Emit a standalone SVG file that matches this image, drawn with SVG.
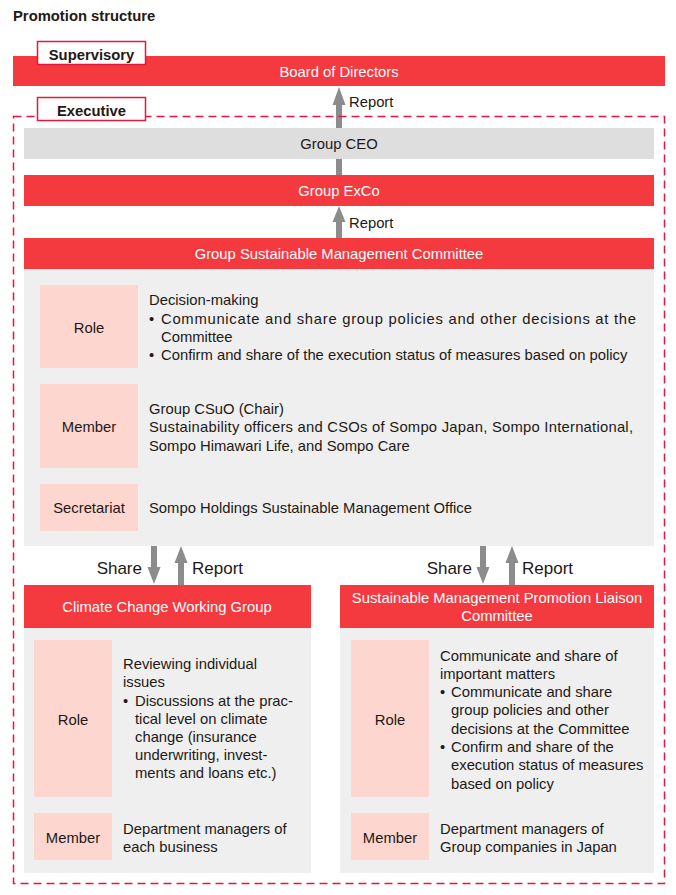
<svg xmlns="http://www.w3.org/2000/svg" width="676" height="895" viewBox="0 0 676 895">
<style>
text{font-family:"Liberation Sans",Arial,sans-serif;fill:#231815;font-size:14.8px}
.w{fill:#fff;text-anchor:middle}
.c{text-anchor:middle}
.b{font-weight:bold}
.red{fill:#F4393F}
.gray{fill:#EFEFEF}
.pink{fill:#FDD6D0}
.arr{fill:#8C8C8C}
.sr{font-size:17px}
</style>
<rect width="676" height="895" fill="#fff"/>
<text x="13" y="21" class="b" font-size="13.7">Promotion structure</text>

<g id="connectors">
<rect class="arr" x="336" y="104" width="6" height="72"/>
<polygon class="arr" points="339,87 332.5,105 345.5,105"/>
<rect class="arr" x="336" y="220" width="6" height="19"/>
<polygon class="arr" points="339,206 332.5,222 345.5,222"/>
<text x="349" y="107">Report</text>
<text x="349" y="228">Report</text>
<rect class="arr" x="151" y="546" width="6" height="24"/>
<polygon class="arr" points="154,584 147.5,567 160.5,567"/>
<rect class="arr" x="178" y="560" width="6" height="26"/>
<polygon class="arr" points="181,546 174.5,563 187.5,563"/>
<text x="142" y="574" text-anchor="end" class="sr">Share</text>
<text x="192" y="574" class="sr">Report</text>
<rect class="arr" x="480" y="546" width="6" height="24"/>
<polygon class="arr" points="483,584 476.5,567 489.5,567"/>
<rect class="arr" x="509" y="560" width="6" height="26"/>
<polygon class="arr" points="512,546 505.5,563 518.5,563"/>
<text x="472" y="574" text-anchor="end" class="sr">Share</text>
<text x="522" y="574" class="sr">Report</text>
</g>

<g id="board">
<rect class="red" x="13" y="56" width="652" height="30"/>
<text x="339" y="77" class="w">Board of Directors</text>
</g>
<g id="supervisory">
<rect x="37.5" y="41.5" width="108" height="23" fill="#fff" stroke="#E5173F" stroke-width="1.5"/>
<text x="91.5" y="59.5" class="c b" font-size="16.5">Supervisory</text>
</g>

<g id="executive">
<rect x="13.5" y="116.5" width="651" height="767" fill="none" stroke="#E5173F" stroke-width="1.5" stroke-dasharray="8,5"/>
<rect x="37.5" y="97.5" width="108" height="23" fill="#fff" stroke="#E5173F" stroke-width="1.5"/>
<text x="91.5" y="115.5" class="c b" font-size="16.5">Executive</text>
</g>

<g id="ceo">
<rect x="24" y="128" width="630" height="31" fill="#DEDEDE"/>
<text x="339" y="149" class="c">Group CEO</text>
</g>
<g id="exco">
<rect class="red" x="24" y="175" width="630" height="31"/>
<text x="339" y="196" class="w">Group ExCo</text>
</g>

<g id="gsmc">
<rect class="red" x="24" y="238" width="630" height="31"/>
<text x="339" y="259" class="w">Group Sustainable Management Committee</text>
<rect class="gray" x="24" y="269" width="630" height="277"/>
<rect class="pink" x="40" y="285" width="98" height="83"/>
<text x="89" y="333" class="c">Role</text>
<text x="149" y="305">Decision-making</text>
<text x="149" y="324">•</text>
<text x="161" y="324" textLength="475" lengthAdjust="spacing">Communicate and share group policies and other decisions at the</text>
<text x="161" y="342">Committee</text>
<text x="149" y="360">•</text>
<text x="161" y="360">Confirm and share of the execution status of measures based on policy</text>
<rect class="pink" x="40" y="384" width="98" height="84"/>
<text x="89" y="432" class="c">Member</text>
<text x="149" y="414">Group CSuO (Chair)</text>
<text x="149" y="432" textLength="484" lengthAdjust="spacing">Sustainability officers and CSOs of Sompo Japan, Sompo International,</text>
<text x="149" y="451">Sompo Himawari Life, and Sompo Care</text>
<rect class="pink" x="40" y="484" width="98" height="47"/>
<text x="89" y="513" class="c">Secretariat</text>
<text x="149" y="513">Sompo Holdings Sustainable Management Office</text>
</g>

<g id="ccwg">
<rect class="red" x="24" y="585" width="287" height="43"/>
<text x="167" y="612" class="w">Climate Change Working Group</text>
<rect class="gray" x="24" y="628" width="287" height="245"/>
<rect class="pink" x="34" y="640" width="78" height="157"/>
<text x="73" y="725" class="c">Role</text>
<text x="123" y="669">Reviewing individual</text>
<text x="123" y="687">issues</text>
<text x="123" y="706">•</text>
<text x="135" y="706">Discussions at the prac-</text>
<text x="135" y="724">tical level on climate</text>
<text x="135" y="742">change (insurance</text>
<text x="135" y="760">underwriting, invest-</text>
<text x="135" y="778">ments and loans etc.)</text>
<rect class="pink" x="34" y="813" width="78" height="47"/>
<text x="73" y="843" class="c">Member</text>
<text x="123" y="834">Department managers of</text>
<text x="123" y="852">each business</text>
</g>

<g id="smplc">
<rect class="red" x="340" y="585" width="314" height="43"/>
<text x="497" y="603" class="w">Sustainable Management Promotion Liaison</text>
<text x="497" y="621" class="w">Committee</text>
<rect class="gray" x="340" y="628" width="314" height="245"/>
<rect class="pink" x="351" y="640" width="78" height="157"/>
<text x="390" y="725" class="c">Role</text>
<text x="440" y="661">Communicate and share of</text>
<text x="440" y="679">important matters</text>
<text x="440" y="697">•</text>
<text x="451" y="697">Communicate and share</text>
<text x="451" y="715">group policies and other</text>
<text x="451" y="734">decisions at the Committee</text>
<text x="440" y="752">•</text>
<text x="451" y="752">Confirm and share of the</text>
<text x="451" y="770">execution status of measures</text>
<text x="451" y="789">based on policy</text>
<rect class="pink" x="351" y="813" width="78" height="47"/>
<text x="390" y="843" class="c">Member</text>
<text x="440" y="834">Department managers of</text>
<text x="440" y="852">Group companies in Japan</text>
</g>
</svg>
